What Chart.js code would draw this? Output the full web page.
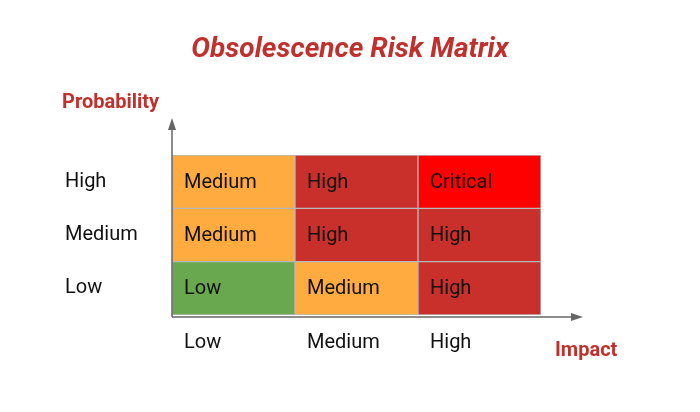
<!DOCTYPE html><html><head><style>body{margin:0;background:#fff}#w{width:700px;height:412px}</style>
<script src="https://cdn.jsdelivr.net/npm/chart.js@4"></script></head><body><div id="w"><canvas id="c"></canvas></div>
<script>
const impactLabels=['Low','Medium','High'];
const probabilityLabels=['Low','Medium','High'];
const rowLow=['Low','Medium','High'];
const rowMedium=['Medium','High','High'];
const rowHigh=['Medium','High','Critical'];
const colorOf={Low:'#6aa84f',Medium:'#ffab40',High:'#c9302c',Critical:'#ff0000'};
const rows=[rowLow,rowMedium,rowHigh];
const RED='#c0302c';
const overlay={id:'ov',afterDatasetsDraw(ch){
 const c=ch.ctx,a=ch.chartArea;c.save();
 c.font='20px Roboto';c.fillStyle='#111';c.textBaseline='middle';c.textAlign='left';
 ch.data.datasets.forEach((ds,di)=>{ch.getDatasetMeta(di).data.forEach((el,i)=>{
  const top=Math.min(el.y,el.base),bot=Math.max(el.y,el.base);
  c.fillText(rows[di][i],el.x-el.width/2+12,(top+bot)/2+1);});});
 // axes arrows
 c.strokeStyle='#666';c.fillStyle='#666';c.lineWidth=1.5;
 c.beginPath();c.moveTo(a.left,a.bottom+2);c.lineTo(a.left,122);c.stroke();
 c.beginPath();c.moveTo(a.left,118);c.lineTo(a.left-4,130);c.lineTo(a.left+4,130);c.fill();
 c.beginPath();c.moveTo(a.left,a.bottom+2);c.lineTo(578,a.bottom+2);c.stroke();
 c.beginPath();c.moveTo(583,a.bottom+2);c.lineTo(571,a.bottom-2);c.lineTo(571,a.bottom+6);c.fill();
 c.fillStyle='#111';c.font='20px Roboto';
 const ys=ch.scales.y;
 probabilityLabels.forEach((l,i)=>c.fillText(l,65,ys.getPixelForValue(i+0.5)));
 const xs=ch.scales.x;
 impactLabels.forEach((l,i)=>c.fillText(l,xs.getPixelForValue(i)-xs.getPixelForValue(0)+a.left+12,343));
 c.fillStyle=RED;c.font='bold 20px Roboto';
 c.fillText('Probability',62,103);c.fillText('Impact',555,351);
 c.font='italic bold 28px Roboto';c.textAlign='center';c.fillText('Obsolescence Risk Matrix',350,50);
 c.restore();}};
new Chart(document.getElementById('c'),{type:'bar',
 data:{labels:impactLabels,datasets:rows.map((r,i)=>({label:probabilityLabels[i],data:[1,1,1],backgroundColor:r.map(v=>colorOf[v]),borderColor:'#b8b8b8',borderWidth:1,borderSkipped:false,barPercentage:1,categoryPercentage:1}))},
 options:{responsive:true,maintainAspectRatio:false,animation:false,layout:{padding:{left:172,right:159,top:155,bottom:97}},
  plugins:{legend:{display:false},tooltip:{enabled:false}},
  scales:{x:{display:false,stacked:true},y:{display:false,stacked:true,min:0,max:3}}},plugins:[overlay]});
</script></body></html>
